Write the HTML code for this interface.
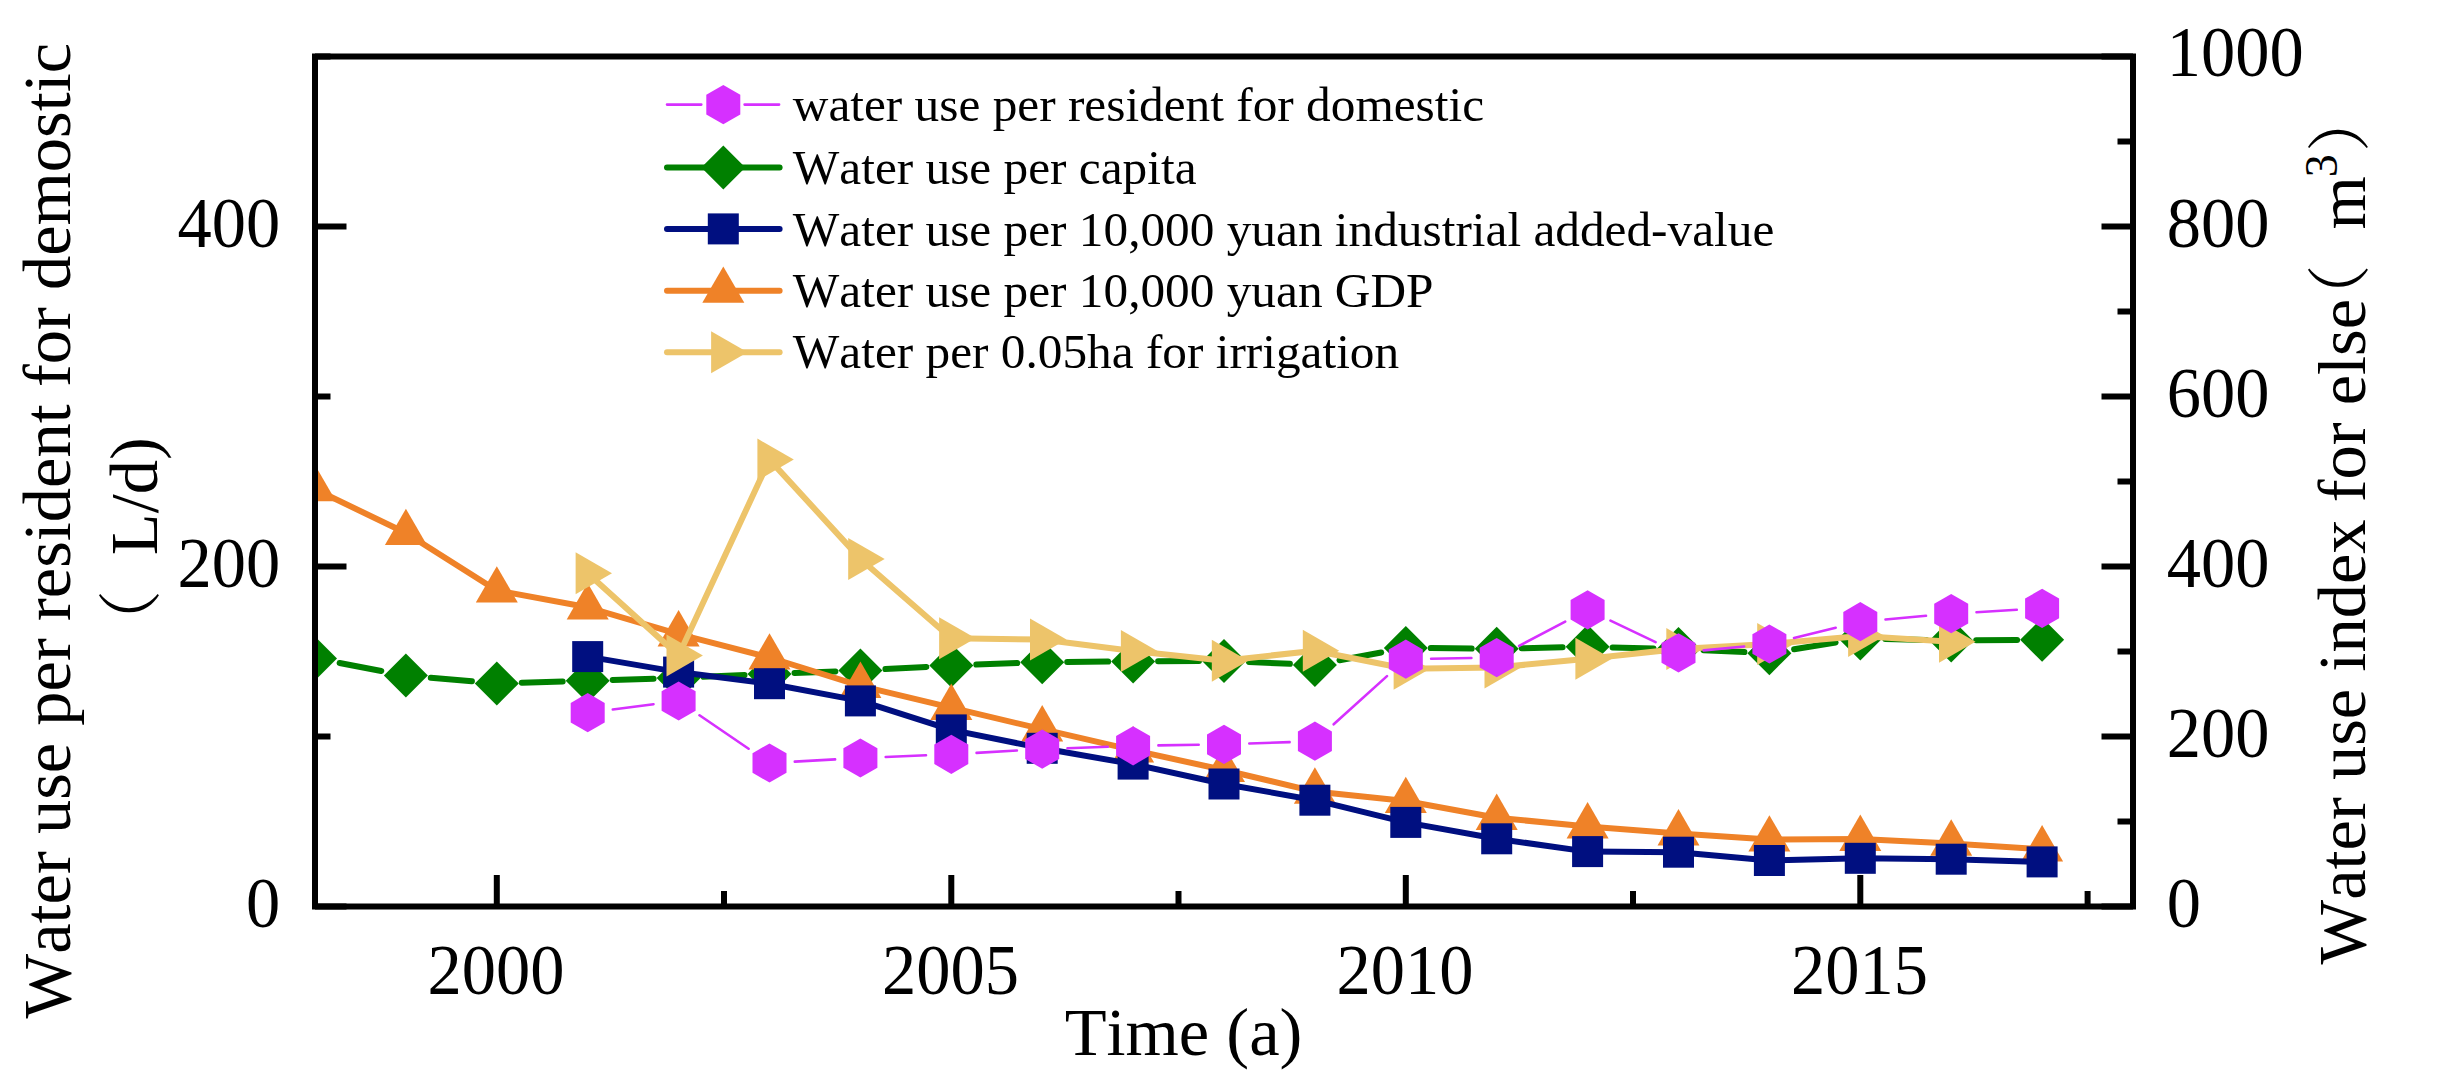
<!DOCTYPE html>
<html lang="en"><head><meta charset="utf-8"><title>Water use indices</title>
<style>html,body{margin:0;padding:0;background:#fff}svg{display:block}text{font-family:"Liberation Serif","Noto Serif CJK SC",serif;fill:#000;font-kerning:none;font-variant-ligatures:none}.ax{font-size:68.5px}.lg{font-size:49.3px}</style></head><body>
<svg width="2448" height="1078" viewBox="0 0 2448 1078">
<rect width="2448" height="1078" fill="#fff"/>
<defs><clipPath id="plot"><rect x="315" y="56.5" width="1818" height="850"/></clipPath></defs>
<g clip-path="url(#plot)">
<path d="M339.6 663L381.3 671M430.8 677.8L471.9 681.3M521.8 682.7L562.7 681.5M612.7 679.9L653.6 678.7M703.6 676.8L744.5 675.1M794.5 673L835.4 671.5M885.4 669.1L926.3 666.9M976.3 664.6L1017.2 663.1M1067.2 662L1108.1 661.6M1158.1 661.3L1199 661M1249 662L1289.9 663.8M1339.5 660.3L1381.2 652.5M1430.8 648.1L1471.7 648.6M1521.7 648.3L1562.6 647.3M1612.6 647.4L1653.5 648.4M1703.5 650.2L1744.4 652M1794.1 649.2L1835.6 642.5M1885.3 639L1926.2 639.9M1976.2 640.2L2017.1 640" fill="none" stroke="#008000" stroke-width="6" stroke-linecap="round"/>
<polygon points="315,636.4 337,658.4 315,680.4 293,658.4" fill="#008000"/>
<polygon points="405.9,653.6 427.9,675.6 405.9,697.6 383.9,675.6" fill="#008000"/>
<polygon points="496.8,661.5 518.8,683.5 496.8,705.5 474.8,683.5" fill="#008000"/>
<polygon points="587.7,658.7 609.7,680.7 587.7,702.7 565.7,680.7" fill="#008000"/>
<polygon points="678.6,655.9 700.6,677.9 678.6,699.9 656.6,677.9" fill="#008000"/>
<polygon points="769.5,652 791.5,674 769.5,696 747.5,674" fill="#008000"/>
<polygon points="860.4,648.5 882.4,670.5 860.4,692.5 838.4,670.5" fill="#008000"/>
<polygon points="951.3,643.5 973.3,665.5 951.3,687.5 929.3,665.5" fill="#008000"/>
<polygon points="1042.2,640.2 1064.2,662.2 1042.2,684.2 1020.2,662.2" fill="#008000"/>
<polygon points="1133.1,639.4 1155.1,661.4 1133.1,683.4 1111.1,661.4" fill="#008000"/>
<polygon points="1224,638.9 1246,660.9 1224,682.9 1202,660.9" fill="#008000"/>
<polygon points="1314.9,642.9 1336.9,664.9 1314.9,686.9 1292.9,664.9" fill="#008000"/>
<polygon points="1405.8,625.9 1427.8,647.9 1405.8,669.9 1383.8,647.9" fill="#008000"/>
<polygon points="1496.7,626.8 1518.7,648.8 1496.7,670.8 1474.7,648.8" fill="#008000"/>
<polygon points="1587.6,624.8 1609.6,646.8 1587.6,668.8 1565.6,646.8" fill="#008000"/>
<polygon points="1678.5,627 1700.5,649 1678.5,671 1656.5,649" fill="#008000"/>
<polygon points="1769.4,631.2 1791.4,653.2 1769.4,675.2 1747.4,653.2" fill="#008000"/>
<polygon points="1860.3,616.5 1882.3,638.5 1860.3,660.5 1838.3,638.5" fill="#008000"/>
<polygon points="1951.2,618.4 1973.2,640.4 1951.2,662.4 1929.2,640.4" fill="#008000"/>
<polygon points="2042.1,617.8 2064.1,639.8 2042.1,661.8 2020.1,639.8" fill="#008000"/>
<polyline points="315,489.2 405.9,533 496.8,590.5 587.7,607.3 678.6,634.2 769.5,657.5 860.4,685.9 951.3,707.7 1042.2,729.2 1133.1,750.2 1224,770 1314.9,791.6 1405.8,801 1496.7,817.8 1587.6,826.4 1678.5,833.4 1769.4,839.5 1860.3,838.9 1951.2,843.6 2042.1,849.2" fill="none" stroke="#EF8228" stroke-width="6" stroke-linejoin="round" stroke-linecap="round"/>
<polygon points="315,464.9 336,501.3 294,501.3" fill="#EF8228"/>
<polygon points="405.9,508.7 426.9,545.1 384.9,545.1" fill="#EF8228"/>
<polygon points="496.8,566.2 517.8,602.6 475.8,602.6" fill="#EF8228"/>
<polygon points="587.7,583 608.7,619.4 566.7,619.4" fill="#EF8228"/>
<polygon points="678.6,609.9 699.6,646.4 657.6,646.4" fill="#EF8228"/>
<polygon points="769.5,633.2 790.5,669.6 748.5,669.6" fill="#EF8228"/>
<polygon points="860.4,661.6 881.4,698 839.4,698" fill="#EF8228"/>
<polygon points="951.3,683.4 972.3,719.9 930.3,719.9" fill="#EF8228"/>
<polygon points="1042.2,704.9 1063.2,741.4 1021.2,741.4" fill="#EF8228"/>
<polygon points="1133.1,725.9 1154.1,762.4 1112.1,762.4" fill="#EF8228"/>
<polygon points="1224,745.7 1245,782.1 1203,782.1" fill="#EF8228"/>
<polygon points="1314.9,767.3 1335.9,803.8 1293.9,803.8" fill="#EF8228"/>
<polygon points="1405.8,776.7 1426.8,813.1 1384.8,813.1" fill="#EF8228"/>
<polygon points="1496.7,793.5 1517.7,829.9 1475.7,829.9" fill="#EF8228"/>
<polygon points="1587.6,802.1 1608.6,838.5 1566.6,838.5" fill="#EF8228"/>
<polygon points="1678.5,809.1 1699.5,845.5 1657.5,845.5" fill="#EF8228"/>
<polygon points="1769.4,815.2 1790.4,851.6 1748.4,851.6" fill="#EF8228"/>
<polygon points="1860.3,814.6 1881.3,851 1839.3,851" fill="#EF8228"/>
<polygon points="1951.2,819.3 1972.2,855.8 1930.2,855.8" fill="#EF8228"/>
<polygon points="2042.1,824.9 2063.1,861.4 2021.1,861.4" fill="#EF8228"/>
<polyline points="587.7,656.6 678.6,672.1 769.5,683.7 860.4,700.9 951.3,729.9 1042.2,748.3 1133.1,764.1 1224,784 1314.9,800.2 1405.8,822.4 1496.7,838.8 1587.6,851.6 1678.5,852.2 1769.4,860.5 1860.3,858.3 1951.2,859.2 2042.1,861.9" fill="none" stroke="#000F80" stroke-width="6" stroke-linejoin="round" stroke-linecap="round"/>
<rect x="572.2" y="641.1" width="31" height="31" fill="#000F80"/>
<rect x="663.1" y="656.6" width="31" height="31" fill="#000F80"/>
<rect x="754" y="668.2" width="31" height="31" fill="#000F80"/>
<rect x="844.9" y="685.4" width="31" height="31" fill="#000F80"/>
<rect x="935.8" y="714.4" width="31" height="31" fill="#000F80"/>
<rect x="1026.7" y="732.8" width="31" height="31" fill="#000F80"/>
<rect x="1117.6" y="748.6" width="31" height="31" fill="#000F80"/>
<rect x="1208.5" y="768.5" width="31" height="31" fill="#000F80"/>
<rect x="1299.4" y="784.7" width="31" height="31" fill="#000F80"/>
<rect x="1390.3" y="806.9" width="31" height="31" fill="#000F80"/>
<rect x="1481.2" y="823.3" width="31" height="31" fill="#000F80"/>
<rect x="1572.1" y="836.1" width="31" height="31" fill="#000F80"/>
<rect x="1663" y="836.7" width="31" height="31" fill="#000F80"/>
<rect x="1753.9" y="845" width="31" height="31" fill="#000F80"/>
<rect x="1844.8" y="842.8" width="31" height="31" fill="#000F80"/>
<rect x="1935.7" y="843.7" width="31" height="31" fill="#000F80"/>
<rect x="2026.6" y="846.4" width="31" height="31" fill="#000F80"/>
<polyline points="587.7,573.2 678.6,655.4 769.5,459.6 860.4,558.9 951.3,638.3 1042.2,639.6 1133.1,651 1224,660.7 1314.9,650.7 1405.8,668.8 1496.7,667.4 1587.6,658.8 1678.5,649 1769.4,644 1860.3,636 1951.2,641.7" fill="none" stroke="#EDC46A" stroke-width="6" stroke-linejoin="round" stroke-linecap="round"/>
<polygon points="612,573.2 575.6,594.2 575.6,552.2" fill="#EDC46A"/>
<polygon points="702.9,655.4 666.5,676.4 666.5,634.4" fill="#EDC46A"/>
<polygon points="793.8,459.6 757.4,480.6 757.4,438.6" fill="#EDC46A"/>
<polygon points="884.7,558.9 848.2,579.9 848.2,537.9" fill="#EDC46A"/>
<polygon points="975.6,638.3 939.1,659.3 939.1,617.3" fill="#EDC46A"/>
<polygon points="1066.5,639.6 1030,660.6 1030,618.6" fill="#EDC46A"/>
<polygon points="1157.4,651 1120.9,672 1120.9,630" fill="#EDC46A"/>
<polygon points="1248.3,660.7 1211.8,681.7 1211.8,639.7" fill="#EDC46A"/>
<polygon points="1339.2,650.7 1302.8,671.7 1302.8,629.7" fill="#EDC46A"/>
<polygon points="1430.1,668.8 1393.6,689.8 1393.6,647.8" fill="#EDC46A"/>
<polygon points="1521,667.4 1484.5,688.4 1484.5,646.4" fill="#EDC46A"/>
<polygon points="1611.9,658.8 1575.4,679.8 1575.4,637.8" fill="#EDC46A"/>
<polygon points="1702.8,649 1666.3,670 1666.3,628" fill="#EDC46A"/>
<polygon points="1793.7,644 1757.2,665 1757.2,623" fill="#EDC46A"/>
<polygon points="1884.6,636 1848.1,657 1848.1,615" fill="#EDC46A"/>
<polygon points="1975.5,641.7 1939,662.7 1939,620.7" fill="#EDC46A"/>
<path d="M612.8 709.5L653.5 704.2M699.5 715.3L748.6 748.7M794.8 761.6L835.1 759.4M885.7 757L926 755.3M976.6 752.9L1016.9 750.5M1067.5 748.2L1107.8 746.7M1158.4 745.4L1198.7 744.8M1249.3 743.5L1289.6 742.1M1333.7 724.3L1387 676.1M1431.1 658.8L1471.4 658M1519.1 645.8L1565.2 621.6M1610.5 620.6L1655.6 642.1M1703.7 650.4L1744.2 646.5M1794 638L1835.7 627.7M1885.5 619.5L1926 615.8M1976.5 612.2L2016.8 609.8" fill="none" stroke="#D630FF" stroke-width="2.6" stroke-linecap="round"/>
<polygon points="587.7,693.1 604.7,702.9 604.7,722.5 587.7,732.3 570.7,722.5 570.7,702.9" fill="#D630FF"/>
<polygon points="678.6,681.4 695.6,691.2 695.6,710.8 678.6,720.6 661.6,710.8 661.6,691.2" fill="#D630FF"/>
<polygon points="769.5,743.4 786.5,753.2 786.5,772.8 769.5,782.6 752.5,772.8 752.5,753.2" fill="#D630FF"/>
<polygon points="860.4,738.4 877.4,748.2 877.4,767.8 860.4,777.6 843.4,767.8 843.4,748.2" fill="#D630FF"/>
<polygon points="951.3,734.7 968.3,744.5 968.3,764.1 951.3,773.9 934.3,764.1 934.3,744.5" fill="#D630FF"/>
<polygon points="1042.2,729.5 1059.2,739.3 1059.2,758.9 1042.2,768.7 1025.2,758.9 1025.2,739.3" fill="#D630FF"/>
<polygon points="1133.1,726.2 1150.1,736 1150.1,755.6 1133.1,765.4 1116.1,755.6 1116.1,736" fill="#D630FF"/>
<polygon points="1224,724.8 1241,734.6 1241,754.2 1224,764 1207,754.2 1207,734.6" fill="#D630FF"/>
<polygon points="1314.9,721.6 1331.9,731.4 1331.9,751 1314.9,760.8 1297.9,751 1297.9,731.4" fill="#D630FF"/>
<polygon points="1405.8,639.6 1422.8,649.4 1422.8,669 1405.8,678.8 1388.8,669 1388.8,649.4" fill="#D630FF"/>
<polygon points="1496.7,638 1513.7,647.8 1513.7,667.4 1496.7,677.2 1479.7,667.4 1479.7,647.8" fill="#D630FF"/>
<polygon points="1587.6,590.2 1604.6,600 1604.6,619.6 1587.6,629.4 1570.6,619.6 1570.6,600" fill="#D630FF"/>
<polygon points="1678.5,633.3 1695.5,643.1 1695.5,662.7 1678.5,672.5 1661.5,662.7 1661.5,643.1" fill="#D630FF"/>
<polygon points="1769.4,624.4 1786.4,634.2 1786.4,653.8 1769.4,663.6 1752.4,653.8 1752.4,634.2" fill="#D630FF"/>
<polygon points="1860.3,602.1 1877.3,611.9 1877.3,631.5 1860.3,641.3 1843.3,631.5 1843.3,611.9" fill="#D630FF"/>
<polygon points="1951.2,594 1968.2,603.8 1968.2,623.4 1951.2,633.2 1934.2,623.4 1934.2,603.8" fill="#D630FF"/>
<polygon points="2042.1,588.8 2059.1,598.6 2059.1,618.2 2042.1,628 2025.1,618.2 2025.1,598.6" fill="#D630FF"/>
</g>
<g stroke="#000" stroke-width="6" fill="none" stroke-linecap="butt">
<rect x="315" y="56.5" width="1818" height="850"/>
<line x1="315" y1="906.5" x2="346.5" y2="906.5"/>
<line x1="315" y1="736.5" x2="330.5" y2="736.5"/>
<line x1="315" y1="566.5" x2="346.5" y2="566.5"/>
<line x1="315" y1="396.5" x2="330.5" y2="396.5"/>
<line x1="315" y1="226.5" x2="346.5" y2="226.5"/>
<line x1="315" y1="56.5" x2="330.5" y2="56.5"/>
<line x1="2133" y1="906.5" x2="2101.5" y2="906.5"/>
<line x1="2133" y1="821.5" x2="2117.5" y2="821.5"/>
<line x1="2133" y1="736.5" x2="2101.5" y2="736.5"/>
<line x1="2133" y1="651.5" x2="2117.5" y2="651.5"/>
<line x1="2133" y1="566.5" x2="2101.5" y2="566.5"/>
<line x1="2133" y1="481.5" x2="2117.5" y2="481.5"/>
<line x1="2133" y1="396.5" x2="2101.5" y2="396.5"/>
<line x1="2133" y1="311.5" x2="2117.5" y2="311.5"/>
<line x1="2133" y1="226.5" x2="2101.5" y2="226.5"/>
<line x1="2133" y1="141.5" x2="2117.5" y2="141.5"/>
<line x1="2133" y1="56.5" x2="2101.5" y2="56.5"/>
<line x1="496.8" y1="906.5" x2="496.8" y2="875"/>
<line x1="724" y1="906.5" x2="724" y2="891"/>
<line x1="951.3" y1="906.5" x2="951.3" y2="875"/>
<line x1="1178.5" y1="906.5" x2="1178.5" y2="891"/>
<line x1="1405.8" y1="906.5" x2="1405.8" y2="875"/>
<line x1="1633" y1="906.5" x2="1633" y2="891"/>
<line x1="1860.3" y1="906.5" x2="1860.3" y2="875"/>
<line x1="2087.6" y1="906.5" x2="2087.6" y2="891"/>
</g>
<g class="ax">
<text transform="translate(280.3,926.5) scale(1,1.035)" text-anchor="end">0</text>
<text transform="translate(280.3,586.5) scale(1,1.035)" text-anchor="end">200</text>
<text transform="translate(280.3,246.5) scale(1,1.035)" text-anchor="end">400</text>
<text transform="translate(2166.8,926.5) scale(1,1.035)" text-anchor="start">0</text>
<text transform="translate(2166.8,756.5) scale(1,1.035)" text-anchor="start">200</text>
<text transform="translate(2166.8,586.5) scale(1,1.035)" text-anchor="start">400</text>
<text transform="translate(2166.8,416.5) scale(1,1.035)" text-anchor="start">600</text>
<text transform="translate(2166.8,246.5) scale(1,1.035)" text-anchor="start">800</text>
<text transform="translate(2166.8,76.1) scale(1,1.035)" text-anchor="start">1000</text>
<text transform="translate(496,993.8) scale(1,1.035)" text-anchor="middle">2000</text>
<text transform="translate(950.5,993.8) scale(1,1.035)" text-anchor="middle">2005</text>
<text transform="translate(1405,993.8) scale(1,1.035)" text-anchor="middle">2010</text>
<text transform="translate(1859.5,993.8) scale(1,1.035)" text-anchor="middle">2015</text>
<text x="1183.5" y="1055" text-anchor="middle">Time (a)</text>
<text transform="translate(70.0,1018.5) rotate(-90)">Water use per resident for demostic<tspan x="364.5" y="83" font-family="'Noto Serif CJK SC','Noto Sans CJK SC',serif" font-size="64">（ </tspan><tspan x="463.3" y="86.6">L/d)</tspan></text>
<text transform="translate(2364.8,964.5) rotate(-90)">Water use index for else<tspan x="636" y="-2.4" font-family="'Noto Serif CJK SC','Noto Sans CJK SC',serif" font-size="64">（ </tspan><tspan x="735" y="0.2">m</tspan><tspan x="787.2" y="-28.3" font-size="46">3</tspan><tspan x="812.5" y="-2.4" font-family="'Noto Serif CJK SC','Noto Sans CJK SC',serif" font-size="64">）</tspan></text>
</g>
<path d="M667 104.6L701.3 104.6M744.6 104.6L779.1 104.6" stroke="#D630FF" stroke-width="2.6" stroke-linecap="round" fill="none"/>
<polygon points="723.3,85 740.3,94.8 740.3,114.4 723.3,124.2 706.3,114.4 706.3,94.8" fill="#D630FF"/>
<line x1="667" y1="167.4" x2="779.6" y2="167.4" stroke="#008000" stroke-width="6" stroke-linecap="round"/>
<polygon points="723.3,145.4 745.3,167.4 723.3,189.4 701.3,167.4" fill="#008000"/>
<line x1="667" y1="228.9" x2="779.6" y2="228.9" stroke="#000F80" stroke-width="6" stroke-linecap="round"/>
<rect x="707.8" y="213.4" width="31" height="31" fill="#000F80"/>
<line x1="667" y1="290.7" x2="779.6" y2="290.7" stroke="#EF8228" stroke-width="6" stroke-linecap="round"/>
<polygon points="723.3,266.4 744.3,302.8 702.3,302.8" fill="#EF8228"/>
<line x1="667" y1="352.2" x2="779.6" y2="352.2" stroke="#EDC46A" stroke-width="6" stroke-linecap="round"/>
<polygon points="747.6,352.2 711.1,373.2 711.1,331.2" fill="#EDC46A"/>
<g class="lg">
<text x="792.8" y="121.1">water use per resident for domestic</text>
<text x="792.8" y="184">Water use per capita</text>
<text x="792.8" y="246.2">Water use per 10,000 yuan industrial added-value</text>
<text x="792.8" y="307">Water use per 10,000 yuan GDP</text>
<text x="792.8" y="368.4">Water per 0.05ha for irrigation</text>
</g>
</svg></body></html>
